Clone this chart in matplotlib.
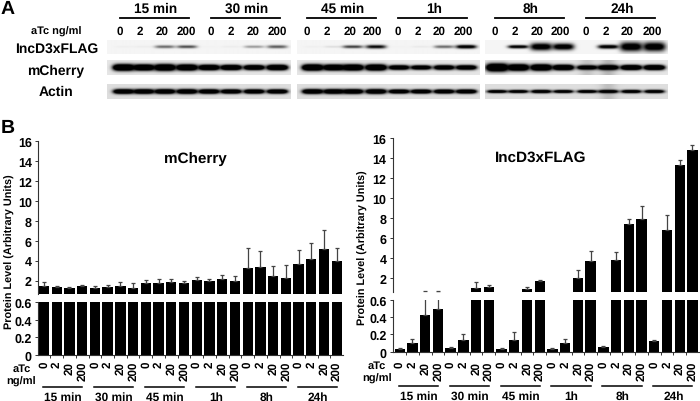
import numpy as np
import matplotlib
matplotlib.use("Agg")
import matplotlib.pyplot as plt

plt.rcParams["font.family"] = ["Liberation Sans", "DejaVu Sans"]
plt.rcParams["font.weight"] = "bold"
plt.rcParams["text.hinting"] = "none"

W, H = 700, 402

# --- panel B values ---
doses = ["0", "2", "20", "200"] * 6
times = ["15 min", "30 min", "45 min", "1h", "8h", "24h"]

mcherry = [1.5, 1.33, 1.23, 1.43, 1.3, 1.4, 1.43, 1.3,
           1.77, 1.77, 1.9, 1.77, 2.07, 1.93, 2.13, 1.93,
           3.3, 3.4, 2.43, 2.27, 3.63, 4.2, 5.2, 3.95]
mcherry_top = [1.9, 1.5, 1.33, 1.6, 1.43, 1.53, 1.83, 1.73,
               2.07, 2.13, 2.2, 1.93, 2.33, 2.2, 2.57, 2.43,
               5.23, 5.0, 3.43, 3.57, 5.03, 5.8, 7.1, 5.25]

incd = [0.03, 0.1, 0.43, 0.49, 0.04, 0.14, 1.07, 1.1,
        0.03, 0.14, 0.9, 1.7, 0.03, 0.1, 2.03, 3.7,
        0.06, 3.87, 7.4, 7.87, 0.12, 6.83, 13.27, 14.77]
incd_top = [0.04, 0.15, 0.7, 0.7, 0.05, 0.21, 1.6, 1.3,
            0.04, 0.23, 1.1, 1.83, 0.04, 0.15, 2.8, 4.73,
            0.07, 4.67, 7.87, 9.17, 0.13, 8.27, 13.83, 15.33]

# --- panel A band strengths, lane by lane ---
lane_x = [123, 143, 164, 186, 208, 230, 253, 276, 312, 333, 352, 375,
          398, 420, 443, 465, 497, 518, 541, 563, 587, 608, 631, 654]
flag_i = [.02, .03, .45, .55, .01, .03, .3, .5, .02, .08, .6, .8,
          .01, .04, .45, 1, 0, 1, 1, 1, 0, 1, 1, 1]
flag_h = [1, 1, 1.5, 1.5, 1, 1, 1.3, 1.6, 1, 1, 1.5, 1.8,
          1, 1, 1.5, 1.8, 1, 1.6, 3.6, 3.2, 1, 1.9, 4.5, 4.5]
cherry_i = [1, 1, 1, 1, 1, 1, .95, 1, 1, 1, 1, 1,
            .85, .8, .85, .85, 1, 1, 1, 1, .8, .9, 1, 1]
cherry_h = [3, 2.8, 3, 2.8, 2.5, 2.4, 2.3, 2.5, 2.9, 2.7, 2.8, 2.8,
            2.2, 2.1, 2.2, 2.2, 3.6, 3, 2.9, 2.5, 2.1, 2.3, 2.3, 2.3]
actin_i = [1, 1, 1, 1, 1, 1, 1, 1, 1, 1, 1, 1,
           1, 1, 1, 1, .8, .8, .85, .8, .8, .8, .8, .8]
actin_h = [2.2, 2.2, 2.2, 2.2, 2.1, 2, 2, 2, 2.2, 2.2, 2.2, 2.2,
           1.9, 1.9, 1.9, 1.9, 1.5, 1.5, 1.6, 1.5, 1.5, 1.6, 1.6, 1.6]

blot_panels = [(106.5, 290), (296.5, 479), (485, 668)]
blot_rows = [("IncD3xFLAG", 40.5, 54.5, 47, 0.96, flag_i, flag_h, 1.3, []),
             ("mCherry", 61.5, 76, 68.5, 0.90, cherry_i, cherry_h, 2.2, [(587, .14), (608, .2)]),
             ("Actin", 85.5, 100, 92.5, 0.87, actin_i, actin_h, 2.0, [(608, .14)])]
header_x = [120, 211, 307, 398, 495, 586]
dose_x = [120, 140, 162, 186, 211, 231, 253, 277, 307, 327, 350, 372,
          398, 418, 439, 463, 495, 515, 537, 560, 586, 606, 627, 652]


def px_axes(fig, left, top, right, bottom):
    return fig.add_axes([left / W, 1 - bottom / H, (right - left) / W, (bottom - top) / H])


def blot_image(x0, x1, y0, y1, yc, bg, strength, height, gain, smudges):
    xs, ys = np.meshgrid(np.arange(x0, x1, 0.5), np.arange(y0, y1, 0.5))
    img = np.full(xs.shape, bg)
    for cx, amp in smudges:
        img = img * (1 - amp * np.exp(-((xs - cx) / 8) ** 2))
    for cx, s, h in zip(lane_x, strength, height):
        wide = 9.5 + h * 0.4
        dark = s * np.exp(-((xs - cx) / wide) ** 4) * np.exp(-((ys - yc) / h) ** 2)
        img = img * (1 - np.clip(dark * gain, 0, 1))
    return img


def bar_chart(fig, left, right, x0, mid_hi, mid_lo, bottom, values, tops, y16, y2,
              label_pad, rule_gap, text_gap):
    spacing = 12.73
    x = np.arange(len(values))
    xlim = ((left - x0) / spacing, (right - x0) / spacing)
    per_unit = (y2 - y16) / 14
    upper_min = 2 - (mid_hi - y2) / per_unit
    upper = px_axes(fig, left, y16, right, mid_hi)
    lower = px_axes(fig, left, mid_lo, right, bottom)

    errs = np.array(tops) - np.array(values)
    upper.bar(x, values, width=0.81, color="black")
    upper.errorbar(x, values, yerr=[np.zeros(len(x)), errs], fmt="none",
                   ecolor="#444444", elinewidth=0.9, capsize=1.5, capthick=0.9)
    upper.set_ylim(upper_min, 16)
    upper.set_yticks(range(2, 17, 2))
    upper.set_xticks([])

    lower.bar(x, values, width=0.81, color="black")
    lower.errorbar(x, values, yerr=[np.zeros(len(x)), errs], fmt="none",
                   ecolor="#444444", elinewidth=0.9, capsize=1.5, capthick=0.9)
    lower.set_ylim(0, 0.6)
    lower.set_yticks([0, 0.2, 0.4, 0.6], ["0", "0.2", "0.4", "0.6"])
    lower.set_xticks(x, doses, rotation=90, fontsize=8.4)
    lower.set_xticks(x[:-1] + 0.5, minor=True)
    lower.tick_params(axis="x", which="major", length=0, pad=label_pad)
    lower.tick_params(axis="x", which="minor", length=2.5, width=0.7, color="#333333")

    for ax in (upper, lower):
        ax.set_xlim(xlim)
        ax.patch.set_alpha(0)
        ax.spines[["top", "right"]].set_visible(False)
        ax.spines["left"].set_color("#333333")
        ax.spines["left"].set_linewidth(0.8)
        ax.spines["bottom"].set_color("#333333")
        ax.spines["bottom"].set_linewidth(0.8)
        ax.tick_params(axis="y", labelsize=9, length=2.5, width=0.7, color="#333333", pad=2)
    upper.spines["bottom"].set_visible(False)

    # time group rules under the dose labels
    trans = lower.get_xaxis_transform()
    line_y = -rule_gap / (bottom - mid_lo)
    text_y = -text_gap / (bottom - mid_lo)
    for i, t in enumerate(times):
        lower.plot([i * 4 - 0.08, i * 4 + 3.0], [line_y, line_y], color="black", lw=1.1,
                   transform=trans, clip_on=False)
        lower.text(i * 4 + 1.5, text_y, t, transform=trans, ha="center", va="center", fontsize=8.6)


fig = plt.figure(figsize=(W / 100, H / 100), dpi=100)
canvas = fig.add_axes([0, 0, 1, 1])
canvas.axis("off")

# panel A
for name, y0, y1, yc, bg, strength, height, gain, smudges in blot_rows:
    for x0, x1 in blot_panels:
        img = blot_image(x0, x1, y0, y1, yc, bg, strength, height, gain, smudges)
        canvas.imshow(img, cmap="gray", vmin=0, vmax=1, extent=(x0, x1, y1, y0),
                      interpolation="bilinear", aspect="auto")
canvas.set_xlim(0, W)
canvas.set_ylim(H, 0)

canvas.text(1, 14, "A", fontsize=14, va="baseline")
canvas.text(1, 133, "B", fontsize=14, va="baseline")
canvas.text(56, 32, "aTc ng/ml", fontsize=7.9, ha="center", va="center")
canvas.text(57, 49.5, "IncD3xFLAG", fontsize=10, ha="center", va="center")
canvas.text(56, 71, "mCherry", fontsize=10, ha="center", va="center")
canvas.text(56, 92.5, "Actin", fontsize=10, ha="center", va="center")
for x, t in zip(header_x, times):
    canvas.plot([x, x + 68.5], [19, 19], color="black", lw=1.3)
    canvas.text(x + 36, 9.5, t, fontsize=9.8, ha="center", va="center")
for x, d in zip(dose_x, doses):
    canvas.text(x, 31.5, d, fontsize=8.4, ha="center", va="center")

# panel B
bar_chart(fig, 38, 343, 44, 295, 303.3, 355.7, mcherry, mcherry_top, 142, 281.7, 4.5, 31.8, 42)
bar_chart(fig, 392.7, 699, 399.7, 293.3, 301, 352.7, incd, incd_top, 139, 279.3, 6.5, 34, 44)

canvas.text(195, 159, "mCherry", fontsize=11, ha="center", va="center")
canvas.text(541, 158, "IncD3xFLAG", fontsize=11, ha="center", va="center")
canvas.text(9.5, 252, "Protein Level (Arbitrary Units)", fontsize=7.8, rotation=90, ha="center", va="center")
canvas.text(363, 248, "Protein Level (Arbitrary Units)", fontsize=7.8, rotation=90, ha="center", va="center")
canvas.text(22, 369, "aTc", fontsize=8, ha="center", va="center")
canvas.text(21, 382, "ng/ml", fontsize=8, ha="center", va="center")
canvas.text(377, 366, "aTc", fontsize=8, ha="center", va="center")
canvas.text(377, 379, "ng/ml", fontsize=8, ha="center", va="center")

fig.savefig("out.png", dpi=100)
plt.close(fig)
